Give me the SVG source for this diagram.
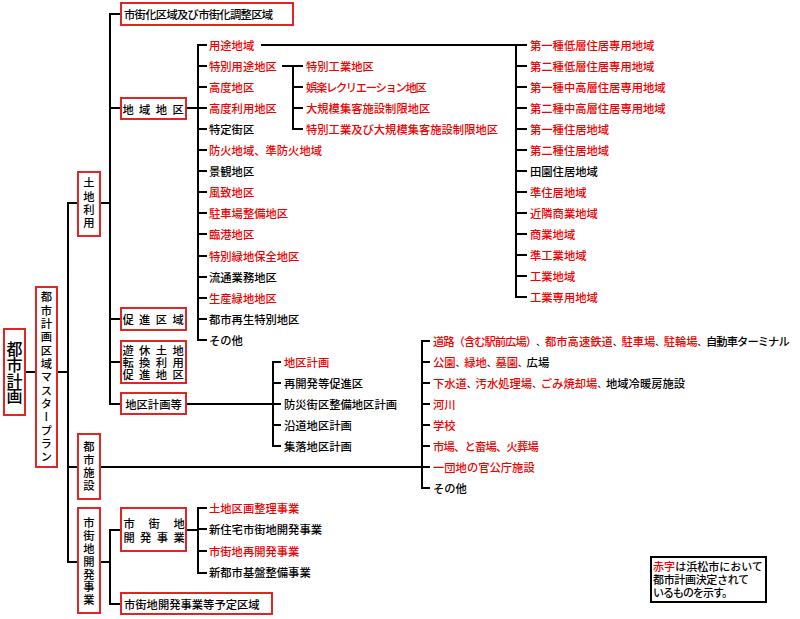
<svg xmlns="http://www.w3.org/2000/svg" width="800" height="619" viewBox="0 0 800 619">
<style>
text{font-family:"Noto Sans CJK JP","Noto Sans",sans-serif;font-size:11.3px;font-weight:500;dominant-baseline:central;fill:#000}
.r{fill:#f00000}
.c{text-anchor:middle}
.v{writing-mode:vertical-rl}
.big{font-size:16px}
.sm{font-size:11px}
.cm{font-size:8.4px}
.box{fill:#fff;stroke:#e02525;stroke-width:2}
.lg{fill:#fff;stroke:#000;stroke-width:2}
.ln{fill:none;stroke:#000;stroke-width:2;stroke-linejoin:miter}
</style>
<rect width="800" height="619" fill="#fff"/>

<g id="connectors" class="ln">
<path d="M25 372H36M57 372H68"/>
<path d="M78 203H68V562H78M68 467H78"/>
<path d="M100 203H110"/>
<path d="M121 14H110V404H121M110 108H121M110 319H121M110 362H121"/>
<path d="M186 108H198"/>
<path d="M207 45H198V340H207M198 66H207M198 87H207M198 108H207M198 129H207M198 150H207M198 171H207M198 192H207M198 213H207M198 234H207M198 256H207M198 277H207M198 298H207M198 319H207"/>
<path d="M261 45H516"/>
<path d="M527 45H516V297H527M516 66H527M516 87H527M516 108H527M516 129H527M516 150H527M516 171H527M516 192H527M516 213H527M516 234H527M516 255H527M516 276H527"/>
<path d="M282 66H303M303 129H293V66M293 87H303M293 108H303"/>
<path d="M186 404H281M281 362H273V446H281M273 383H281M273 425H281"/>
<path d="M100 467H430M430 341H422V488H430M422 362H430M422 383H430M422 404H430M422 425H430M422 446H430"/>
<path d="M100 562H110M121 530H110V604H121"/>
<path d="M186 530H198M207 508H198V573H207M198 529H207M198 551H207"/>
</g>

<g id="toshikeikaku">
<rect class="box" x="4" y="329" width="21" height="86"/>
<text class="v big" x="14.5" y="341" style="letter-spacing:-0.2px">都市計画</text>
</g>

<g id="masterplan">
<rect class="box" x="36" y="287" width="21" height="180"/>
<text class="v" x="46.5" y="291.3" style="letter-spacing:2.03px">都市計画区域マスタープラン</text>
</g>

<g id="tochiriyou">
<rect class="box" x="78" y="172" width="22" height="64"/>
<text class="v" x="89" y="177.3" style="letter-spacing:2px">土地利用</text>
</g>

<g id="toshishisetsu">
<rect class="box" x="78" y="434" width="22" height="65"/>
<text class="v" x="89" y="441.3" style="letter-spacing:1.7px">都市施設</text>
</g>

<g id="shigaichikaihatsu">
<rect class="box" x="78" y="508" width="22" height="105"/>
<text class="v" x="89" y="517.3" style="letter-spacing:1.53px">市街地開発事業</text>
</g>

<g id="kuiki">
<rect class="box" x="121" y="3" width="172" height="22"/>
<text x="124" y="14" style="letter-spacing:-0.7px">市街化区域及び市街化調整区域</text>
</g>

<g id="chiikichiku">
<rect class="box" x="121" y="98" width="65" height="21"/>
<text x="122.4" y="108.5" style="letter-spacing:5.37px">地域地区</text>
</g>

<g id="sokushinkuiki">
<rect class="box" x="121" y="308" width="65" height="22"/>
<text x="122.4" y="319" style="letter-spacing:5.37px">促進区域</text>
</g>

<g id="yuukyuutochi">
<rect class="box" x="121" y="341" width="65" height="42"/>
<text x="122.4" y="349.5" style="letter-spacing:5.37px">遊休土地</text>
<text x="122.4" y="361.5" style="letter-spacing:5.37px">転換利用</text>
<text x="122.4" y="373.5" style="letter-spacing:5.37px">促進地区</text>
</g>

<g id="chikukeikakutou">
<rect class="box" x="121" y="393" width="65" height="21"/>
<text class="c" x="153.5" y="403.5">地区計画等</text>
</g>

<g id="shigaichikaihatsujigyou">
<rect class="box" x="121" y="508" width="65" height="43"/>
<text x="123.4" y="523" style="letter-spacing:13.7px">市街地</text>
<text x="123.4" y="537" style="letter-spacing:5.37px">開発事業</text>
</g>

<g id="yoteikuiki">
<rect class="box" x="121" y="593" width="151" height="21"/>
<text x="124" y="604">市街地開発事業等予定区域</text>
</g>

<g id="chiikichiku-items">
<text class="r" x="209" y="45">用途地域</text>
<text class="r" x="209" y="66">特別用途地区</text>
<text class="r" x="209" y="87">高度地区</text>
<text class="r" x="209" y="108">高度利用地区</text>
<text x="209" y="129">特定街区</text>
<text class="r" x="209" y="150">防火地域、準防火地域</text>
<text x="209" y="171">景観地区</text>
<text class="r" x="209" y="192">風致地区</text>
<text class="r" x="209" y="213">駐車場整備地区</text>
<text class="r" x="209" y="234">臨港地区</text>
<text class="r" x="209" y="256">特別緑地保全地区</text>
<text x="209" y="277">流通業務地区</text>
<text class="r" x="209" y="298">生産緑地地区</text>
<text x="209" y="319">都市再生特別地区</text>
<text x="209" y="340">その他</text>
</g>

<g id="tokubetsuyouto-items">
<text class="r" x="306" y="66">特別工業地区</text>
<text class="r" x="306" y="87" style="letter-spacing:-1.33px">娯楽レクリエーション地区</text>
<text class="r" x="306" y="108">大規模集客施設制限地区</text>
<text class="r" x="306" y="129">特別工業及び大規模集客施設制限地区</text>
</g>

<g id="youtochiiki-items">
<text class="r" x="530" y="45">第一種低層住居専用地域</text>
<text class="r" x="530" y="66">第二種低層住居専用地域</text>
<text class="r" x="530" y="87">第一種中高層住居専用地域</text>
<text class="r" x="530" y="108">第二種中高層住居専用地域</text>
<text class="r" x="530" y="129">第一種住居地域</text>
<text class="r" x="530" y="150">第二種住居地域</text>
<text x="530" y="171">田園住居地域</text>
<text class="r" x="530" y="192">準住居地域</text>
<text class="r" x="530" y="213">近隣商業地域</text>
<text class="r" x="530" y="234">商業地域</text>
<text class="r" x="530" y="255">準工業地域</text>
<text class="r" x="530" y="276">工業地域</text>
<text class="r" x="530" y="297">工業専用地域</text>
</g>

<g id="chikukeikaku-items">
<text class="r" x="284" y="362">地区計画</text>
<text x="284" y="383">再開発等促進区</text>
<text x="284" y="404">防災街区整備地区計画</text>
<text x="284" y="425">沿道地区計画</text>
<text x="284" y="446">集落地区計画</text>
</g>

<g id="shisetsu-items">
<text class="r" x="433" y="341" style="letter-spacing:-1px">道路（含む駅前広場）</text>
<text class="cm" x="536.2" y="341">、</text>
<text class="r" x="545" y="341">都市高速鉄道</text>
<text class="cm" x="613" y="341">、</text>
<text class="r" x="621.5" y="341">駐車場</text>
<text class="cm" x="655.2" y="341">、</text>
<text class="r" x="663.7" y="341">駐輪場</text>
<text class="cm" x="697.5" y="341">、</text>
<text x="706" y="341" style="letter-spacing:-0.95px">自動車ターミナル</text>

<text class="r" x="433" y="362">公園</text>
<text class="cm" x="455.7" y="362">、</text>
<text class="r" x="464.2" y="362">緑地</text>
<text class="cm" x="486.9" y="362">、</text>
<text class="r" x="495.4" y="362">墓園</text>
<text class="cm" x="518.1" y="362">、</text>
<text x="526.6" y="362">広場</text>

<text class="r" x="433" y="383">下水道</text>
<text class="cm" x="467.1" y="383">、</text>
<text class="r" x="475.6" y="383">汚水処理場</text>
<text class="cm" x="532.3" y="383">、</text>
<text class="r" x="540.8" y="383">ごみ焼却場</text>
<text class="cm" x="597.5" y="383">、</text>
<text x="606" y="383">地域冷暖房施設</text>

<text class="r" x="433" y="404">河川</text>
<text class="r" x="433" y="425">学校</text>
<text class="r" x="433" y="446" style="letter-spacing:-0.8px">市場、と畜場、火葬場</text>
<text class="r" x="433" y="467">一団地の官公庁施設</text>
<text x="433" y="488">その他</text>
</g>

<g id="kaihatsu-items">
<text class="r" x="209" y="508">土地区画整理事業</text>
<text x="209" y="529">新住宅市街地開発事業</text>
<text class="r" x="209" y="551">市街地再開発事業</text>
<text x="209" y="572">新都市基盤整備事業</text>
</g>

<g id="legend">
<rect class="lg" x="651" y="557" width="115" height="45"/>
<text class="r sm" x="653" y="566">赤字</text>
<text class="sm" x="675.2" y="566">は浜松市において</text>
<text class="sm" x="653" y="579" style="letter-spacing:-0.33px">都市計画決定されて</text>
<text class="sm" x="653" y="592" style="letter-spacing:-1px">いるものを示す。</text>
</g>
</svg>
